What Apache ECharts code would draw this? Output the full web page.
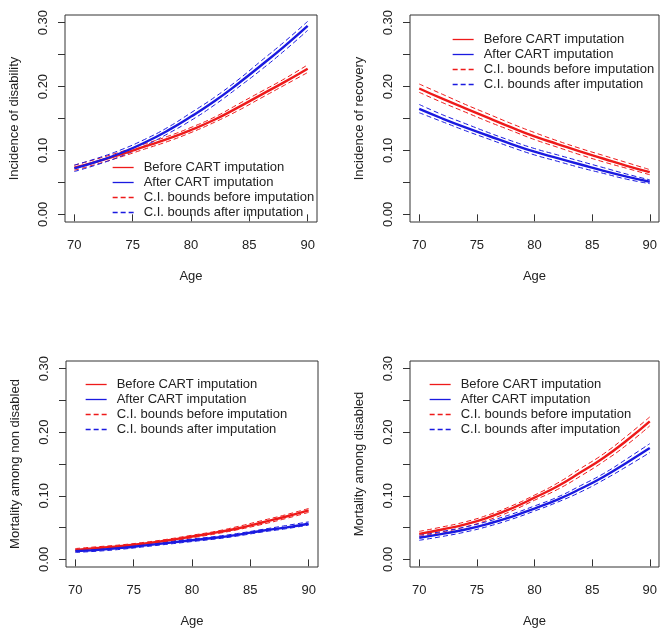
<!DOCTYPE html>
<html>
<head>
<meta charset="utf-8">
<script src="https://cdn.jsdelivr.net/npm/echarts@6/dist/echarts.min.js"></script>
<style>
html,body{margin:0;padding:0;background:#fff;}
#main{width:660px;height:633px;}
</style>
</head>
<body>
<div id="main"></div>
<script>
// ---------- data ----------
const ages = [70, 72, 74, 76, 78, 80, 82, 84, 86, 88, 90];
const xTicks = [70, 75, 80, 85, 90];
const yTicks = [0, 0.05, 0.10, 0.15, 0.20, 0.25, 0.30];
const yLabels = [0, 0.10, 0.20, 0.30];
const xTitle = 'Age';
const yTitles = ['Incidence of disability', 'Incidence of recovery', 'Mortality among non disabled', 'Mortality among disabled'];
const legendNames = ['Before CART imputation', 'After CART imputation', 'C.I. bounds before imputation', 'C.I. bounds after imputation'];

// Panel 1: incidence of disability
const p1Before   = [0.073, 0.083, 0.094, 0.106, 0.118, 0.132, 0.148, 0.167, 0.187, 0.207, 0.228];
const p1BeforeLo = [0.069, 0.079, 0.090, 0.102, 0.114, 0.128, 0.144, 0.162, 0.182, 0.202, 0.222];
const p1BeforeHi = [0.077, 0.087, 0.098, 0.110, 0.122, 0.136, 0.152, 0.172, 0.192, 0.212, 0.234];
const p1After    = [0.072, 0.083, 0.096, 0.112, 0.131, 0.153, 0.177, 0.204, 0.233, 0.263, 0.295];
const p1AfterLo  = [0.067, 0.078, 0.091, 0.107, 0.126, 0.147, 0.171, 0.198, 0.226, 0.256, 0.288];
const p1AfterHi  = [0.077, 0.088, 0.101, 0.117, 0.136, 0.159, 0.183, 0.210, 0.240, 0.270, 0.302];

// Panel 2: incidence of recovery
const p2Before   = [0.197, 0.181, 0.166, 0.151, 0.136, 0.122, 0.110, 0.098, 0.087, 0.076, 0.066];
const p2BeforeLo = [0.191, 0.175, 0.160, 0.145, 0.131, 0.117, 0.105, 0.093, 0.082, 0.072, 0.062];
const p2BeforeHi = [0.204, 0.188, 0.172, 0.157, 0.142, 0.128, 0.115, 0.103, 0.092, 0.081, 0.070];
const p2After    = [0.165, 0.150, 0.136, 0.123, 0.110, 0.098, 0.088, 0.078, 0.068, 0.059, 0.051];
const p2AfterLo  = [0.159, 0.145, 0.131, 0.118, 0.105, 0.093, 0.083, 0.073, 0.064, 0.055, 0.048];
const p2AfterHi  = [0.172, 0.156, 0.142, 0.128, 0.115, 0.103, 0.093, 0.083, 0.073, 0.063, 0.054];

// Panel 3: mortality among non disabled
const p3Before   = [0.015, 0.018, 0.021, 0.025, 0.030, 0.036, 0.042, 0.049, 0.058, 0.067, 0.077];
const p3BeforeLo = [0.013, 0.016, 0.019, 0.023, 0.028, 0.034, 0.040, 0.047, 0.055, 0.064, 0.074];
const p3BeforeHi = [0.017, 0.020, 0.023, 0.027, 0.032, 0.038, 0.044, 0.052, 0.061, 0.070, 0.080];
const p3After    = [0.013, 0.015, 0.018, 0.022, 0.026, 0.030, 0.034, 0.039, 0.045, 0.050, 0.056];
const p3AfterLo  = [0.011, 0.013, 0.016, 0.020, 0.024, 0.028, 0.032, 0.037, 0.043, 0.048, 0.054];
const p3AfterHi  = [0.015, 0.017, 0.020, 0.024, 0.028, 0.032, 0.036, 0.041, 0.047, 0.053, 0.059];

// Panel 4: mortality among disabled
const p4Before   = [0.040, 0.047, 0.055, 0.066, 0.080, 0.097, 0.115, 0.137, 0.160, 0.187, 0.217];
const p4BeforeLo = [0.036, 0.043, 0.051, 0.062, 0.076, 0.093, 0.110, 0.131, 0.154, 0.180, 0.210];
const p4BeforeHi = [0.044, 0.051, 0.059, 0.070, 0.084, 0.101, 0.120, 0.143, 0.166, 0.194, 0.224];
const p4After    = [0.034, 0.040, 0.047, 0.056, 0.067, 0.080, 0.094, 0.111, 0.130, 0.152, 0.175];
const p4AfterLo  = [0.030, 0.036, 0.043, 0.052, 0.063, 0.076, 0.090, 0.106, 0.125, 0.146, 0.168];
const p4AfterHi  = [0.038, 0.044, 0.051, 0.060, 0.071, 0.084, 0.098, 0.116, 0.135, 0.158, 0.182];

const panels = [
  [p1Before, p1After, p1BeforeLo, p1BeforeHi, p1AfterLo, p1AfterHi],
  [p2Before, p2After, p2BeforeLo, p2BeforeHi, p2AfterLo, p2AfterHi],
  [p3Before, p3After, p3BeforeLo, p3BeforeHi, p3AfterLo, p3AfterHi],
  [p4Before, p4After, p4BeforeLo, p4BeforeHi, p4AfterLo, p4AfterHi]
];

// ---------- layout / style ----------
const RED = '#ee1a1a', BLUE = '#1a1ae0', INK = '#222';
const FONT = 'Liberation Sans, Arial, sans-serif';
const grids = [
  {left: 65,  top: 15,  width: 252, height: 207},
  {left: 410, top: 15,  width: 252, height: 207},
  {left: 66,  top: 361, width: 252, height: 206},
  {left: 410, top: 361, width: 252, height: 206}
];
const legendPos = [
  {left: 107, top: 155},
  {left: 447, top: 27},
  {left: 80,  top: 372},
  {left: 424, top: 372}
];

const pair = (xs, ys) => xs.map((x, i) => [x, ys[i]]);

const option = {
  animation: false,
  backgroundColor: '#fff',
  textStyle: {fontFamily: FONT},
  grid: grids.map(g => Object.assign({show: true, borderColor: '#333', borderWidth: 1, backgroundColor: 'transparent'}, g)),
  xAxis: grids.map((g, i) => ({
    type: 'value', gridIndex: i, min: 69.2, max: 90.8,
    name: xTitle, nameLocation: 'middle', nameGap: 48,
    nameTextStyle: {fontSize: 13, color: INK, fontFamily: FONT},
    axisLine: {show: false},
    splitLine: {show: false},
    axisTick: {show: true, length: 7, lineStyle: {color: '#333'}, customValues: xTicks},
    axisLabel: {fontSize: 13, color: INK, fontFamily: FONT, margin: 17, customValues: xTicks}
  })),
  yAxis: grids.map((g, i) => ({
    type: 'value', gridIndex: i, min: -0.012, max: 0.312,
    name: yTitles[i], nameLocation: 'middle', nameGap: 44,
    nameTextStyle: {fontSize: 13, color: INK, fontFamily: FONT},
    axisLine: {show: false},
    splitLine: {show: false},
    axisTick: {show: true, length: 7, lineStyle: {color: '#333'}, customValues: yTicks},
    axisLabel: {fontSize: 13, color: INK, fontFamily: FONT, margin: 15, rotate: 90,
      customValues: yLabels, formatter: v => Number(v).toFixed(2)}
  })),
  legend: legendPos.map(p => ({
    left: p.left, top: p.top, orient: 'vertical',
    itemWidth: 21, itemHeight: 10, itemGap: 0,
    selectedMode: false,
    itemStyle: {color: 'transparent', borderWidth: 0, opacity: 0},
    lineStyle: {width: 1.3},
    textStyle: {fontSize: 13, lineHeight: 15, color: INK, fontFamily: FONT, padding: [0, 0, 0, 5]},
    data: legendNames
  })),
  series: []
};

panels.forEach((arr, i) => {
  const [b, a, bl, bh, al, ah] = arr;
  const dashed = (name, data, color) => ({
    name, type: 'line', xAxisIndex: i, yAxisIndex: i, data: pair(ages, data),
    symbol: 'none', smooth: true, z: 2,
    lineStyle: {color, width: 1, type: [5, 3]}, itemStyle: {color}
  });
  const solid = (name, data, color) => ({
    name, type: 'line', xAxisIndex: i, yAxisIndex: i, data: pair(ages, data),
    symbol: 'none', smooth: true, z: 3,
    lineStyle: {color, width: 2.4, type: 'solid'}, itemStyle: {color}
  });
  option.series.push(
    dashed(legendNames[2], bl, RED),
    dashed(legendNames[2], bh, RED),
    dashed(legendNames[3], al, BLUE),
    dashed(legendNames[3], ah, BLUE),
    solid(legendNames[0], b, RED),
    solid(legendNames[1], a, BLUE)
  );
});

const chart = echarts.init(document.getElementById('main'), null, {renderer: 'canvas'});
chart.setOption(option);
</script>
</body>
</html>
